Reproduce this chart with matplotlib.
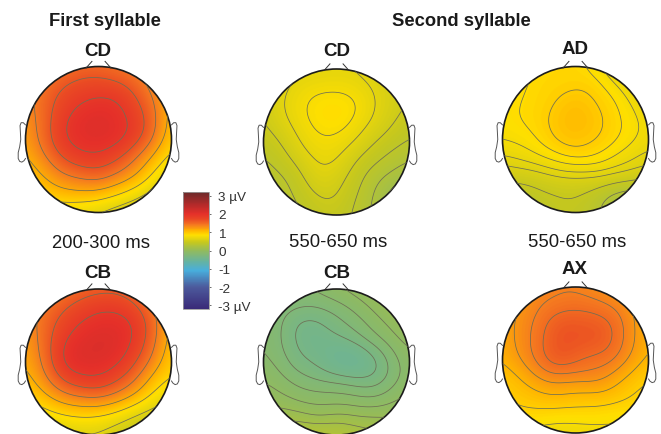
import numpy as np
import matplotlib
matplotlib.use('Agg')
import matplotlib.pyplot as plt
from matplotlib.colors import LinearSegmentedColormap, Normalize
from matplotlib.patches import Circle
from matplotlib.tri import Triangulation, CubicTriInterpolator

plt.rcParams['font.family'] = ['Liberation Sans', 'DejaVu Sans']

W, H = 661, 435
text_col = '#1a1a1a'

# voltage on a 9x9 grid, top row = front of head
grid_pos = [-1, -0.75, -0.5, -0.25, 0, 0.25, 0.5, 0.75, 1]

cd_first = [
    [1.25, 1.35, 1.42, 1.50, 1.50, 1.45, 1.35, 1.20, 1.05],
    [1.30, 1.45, 1.62, 1.72, 1.75, 1.70, 1.55, 1.30, 1.05],
    [1.30, 1.52, 1.75, 1.90, 1.97, 1.93, 1.72, 1.42, 1.05],
    [1.25, 1.52, 1.85, 2.02, 2.06, 2.00, 1.83, 1.48, 1.00],
    [1.20, 1.50, 1.85, 2.00, 2.03, 1.97, 1.75, 1.38, 0.95],
    [1.10, 1.35, 1.65, 1.82, 1.85, 1.70, 1.42, 1.10, 0.80],
    [1.00, 1.15, 1.35, 1.45, 1.50, 1.35, 1.15, 0.85, 0.60],
    [0.85, 0.95, 1.05, 1.08, 1.05, 0.92, 0.75, 0.55, 0.38],
    [0.70, 0.70, 0.70, 0.65, 0.60, 0.50, 0.42, 0.35, 0.30],
]
cd_second = [
    [0.58, 0.60, 0.62, 0.65, 0.66, 0.65, 0.58, 0.54, 0.50],
    [0.56, 0.62, 0.71, 0.75, 0.76, 0.73, 0.65, 0.56, 0.50],
    [0.51, 0.65, 0.76, 0.85, 0.87, 0.81, 0.68, 0.56, 0.48],
    [0.48, 0.60, 0.73, 0.83, 0.85, 0.76, 0.63, 0.51, 0.42],
    [0.42, 0.51, 0.66, 0.76, 0.75, 0.65, 0.51, 0.42, 0.35],
    [0.35, 0.43, 0.56, 0.68, 0.66, 0.51, 0.40, 0.32, 0.25],
    [0.32, 0.35, 0.46, 0.60, 0.56, 0.43, 0.30, 0.20, 0.12],
    [0.28, 0.32, 0.40, 0.50, 0.50, 0.38, 0.25, 0.08, 0.00],
    [0.25, 0.28, 0.35, 0.42, 0.43, 0.35, 0.23, 0.10, 0.02],
]
ad_second = [
    [0.80, 0.83, 0.87, 0.90, 0.90, 0.82, 0.68, 0.58, 0.53],
    [0.83, 0.85, 0.90, 0.92, 0.94, 0.92, 0.81, 0.69, 0.58],
    [0.83, 0.87, 0.91, 0.97, 1.03, 0.97, 0.90, 0.78, 0.67],
    [0.83, 0.87, 0.92, 1.01, 1.06, 1.01, 0.92, 0.83, 0.72],
    [0.78, 0.81, 0.88, 0.97, 1.01, 0.97, 0.90, 0.81, 0.72],
    [0.66, 0.70, 0.76, 0.83, 0.88, 0.86, 0.78, 0.70, 0.64],
    [0.50, 0.52, 0.55, 0.60, 0.62, 0.62, 0.58, 0.54, 0.50],
    [0.35, 0.36, 0.42, 0.45, 0.46, 0.40, 0.28, 0.22, 0.20],
    [0.30, 0.30, 0.36, 0.42, 0.42, 0.34, 0.22, 0.16, 0.15],
]
cb_first = [
    [1.20, 1.30, 1.40, 1.50, 1.55, 1.55, 1.45, 1.25, 1.05],
    [1.25, 1.42, 1.60, 1.75, 1.85, 1.85, 1.70, 1.40, 1.05],
    [1.25, 1.50, 1.75, 1.93, 2.02, 2.02, 1.88, 1.50, 1.05],
    [1.20, 1.50, 1.88, 2.05, 2.10, 2.05, 1.85, 1.45, 1.00],
    [1.15, 1.45, 1.90, 2.05, 2.05, 1.95, 1.68, 1.30, 0.95],
    [1.05, 1.30, 1.65, 1.82, 1.85, 1.68, 1.40, 1.05, 0.85],
    [0.90, 1.05, 1.25, 1.35, 1.38, 1.25, 1.05, 0.80, 0.65],
    [0.68, 0.75, 0.85, 0.90, 0.88, 0.78, 0.62, 0.50, 0.48],
    [0.50, 0.50, 0.55, 0.60, 0.60, 0.50, 0.40, 0.38, 0.38],
]
cb_second = [
    [-0.10, -0.12, -0.15, -0.12, -0.05, 0.00, 0.05, 0.10, 0.12],
    [-0.15, -0.20, -0.25, -0.25, -0.20, -0.12, -0.03, 0.05, 0.10],
    [-0.15, -0.25, -0.38, -0.38, -0.30, -0.22, -0.12, -0.03, 0.05],
    [-0.15, -0.25, -0.38, -0.42, -0.42, -0.36, -0.24, -0.12, -0.02],
    [-0.12, -0.20, -0.32, -0.38, -0.48, -0.50, -0.40, -0.22, -0.08],
    [-0.05, -0.12, -0.20, -0.25, -0.28, -0.32, -0.32, -0.20, -0.08],
    [0.02, -0.02, -0.08, -0.10, -0.10, -0.12, -0.14, -0.08, -0.02],
    [0.10, 0.12, 0.10, 0.05, 0.08, 0.06, 0.05, 0.05, 0.05],
    [0.20, 0.25, 0.30, 0.32, 0.30, 0.25, 0.20, 0.15, 0.12],
]
ax_second = [
    [1.15, 1.20, 1.30, 1.35, 1.35, 1.30, 1.25, 1.15, 1.05],
    [1.15, 1.25, 1.37, 1.43, 1.46, 1.43, 1.37, 1.25, 1.10],
    [1.15, 1.30, 1.43, 1.59, 1.61, 1.59, 1.50, 1.30, 1.10],
    [1.15, 1.30, 1.46, 1.63, 1.63, 1.61, 1.51, 1.30, 1.10],
    [1.10, 1.25, 1.43, 1.58, 1.53, 1.46, 1.40, 1.22, 1.05],
    [1.00, 1.10, 1.25, 1.32, 1.30, 1.30, 1.20, 1.05, 0.95],
    [0.95, 1.00, 1.05, 1.08, 1.05, 1.05, 1.02, 0.95, 0.90],
    [0.85, 0.90, 0.90, 0.88, 0.88, 0.88, 0.85, 0.85, 0.85],
    [0.75, 0.75, 0.72, 0.70, 0.70, 0.72, 0.75, 0.78, 0.80],
]

# contour values for each map
levels_first = [0.65, 0.9, 1.15, 1.4, 1.65, 1.9]
levels_second = [0.13, 0.25, 0.37, 0.5, 0.66, 0.79]
levels_ad = [0.3, 0.45, 0.6, 0.68, 0.78, 0.87, 0.96]
levels_cb = [-0.35, -0.25, -0.15, -0.05, 0.05, 0.15]
levels_ax = [0.8, 0.95, 1.1, 1.25, 1.38, 1.5]

cbar_ticks = [3, 2, 1, 0, -1, -2, -3]
cbar_labels = ['3 µV', '2', '1', '0', '-1', '-2', '-3 µV']

vmin, vmax = -3.2, 3.2


def stop(v):
    return (v - vmin) / (vmax - vmin)


volt_cmap = LinearSegmentedColormap.from_list('volt', [
    (0.0, '#3a2a78'), (stop(-2), '#4c5a9c'), (stop(-1.1), '#48aedc'),
    (stop(-0.6), '#66b3a0'), (stop(0), '#93bb5c'), (stop(0.45), '#c6c81e'),
    (stop(0.85), '#ffe000'), (stop(1.1), '#ffb400'), (stop(1.4), '#f57a20'),
    (stop(1.7), '#ea4a24'), (stop(2), '#e5302a'), (stop(2.5), '#b52a2a'), (1.0, '#6b2a2a'),
])
norm = Normalize(vmin, vmax)

fig = plt.figure(figsize=(W / 100, H / 100), dpi=100)


def add_text(x, y, s, size, bold=False):
    fig.text(x / W, 1 - y / H, s, ha='center', va='center', fontsize=size,
             fontweight='bold' if bold else 'normal', color=text_col)


def soften(z, sigma=16):
    # rounds off the corners the coarse grid leaves in the contours
    k = np.exp(-0.5 * (np.arange(-3 * sigma, 3 * sigma + 1) / sigma) ** 2)
    k = k / k.sum()
    pad = 3 * sigma
    z = np.pad(z, pad, mode='edge')
    z = np.apply_along_axis(np.convolve, 0, z, k, mode='same')
    z = np.apply_along_axis(np.convolve, 1, z, k, mode='same')
    return z[pad:-pad, pad:-pad]


def draw_head(cx, cy, values, levels, r=73):
    hw = r * 1.25
    ax = fig.add_axes([(cx - hw) / W, 1 - (cy + hw) / H, 2 * hw / W, 2 * hw / H])
    lim = hw / r
    ax.set_xlim(-lim, lim)
    ax.set_ylim(-lim, lim)
    ax.axis('off')

    xx, yy = np.meshgrid(grid_pos, grid_pos[::-1])
    tri = Triangulation(xx.ravel(), yy.ravel())
    interp = CubicTriInterpolator(tri, np.array(values).ravel(), kind='min_E')
    xf, yf = np.meshgrid(np.linspace(-1, 1, 300), np.linspace(-1, 1, 300))
    zf = soften(np.asarray(interp(xf, yf)))

    clip = Circle((0, 0), 1.0, transform=ax.transData)
    im = ax.imshow(zf, extent=(-1, 1, -1, 1), origin='lower', cmap=volt_cmap, norm=norm,
                   interpolation='bilinear')
    im.set_clip_path(clip)
    cs = ax.contour(xf, yf, zf, levels=levels, colors='#6e6e55', linewidths=0.55,
                    linestyles='solid')
    cs.set_clip_path(clip)
    ax.add_patch(Circle((0, 0), 1.0, fill=False, ec='#1c1c1c', lw=1.2))

    # nose and ears
    ax.plot([-0.17, -0.09], [0.98, 1.07], color='#333333', lw=0.7)
    ax.plot([0.17, 0.09], [0.98, 1.07], color='#333333', lw=0.7)
    ear_x = np.array([1.0, 1.03, 1.06, 1.075, 1.07, 1.065, 1.08, 1.10, 1.10, 1.08, 1.05, 1.02, 1.0])
    ear_y = np.array([0.2, 0.23, 0.23, 0.19, 0.1, 0.0, -0.1, -0.18, -0.26, -0.3, -0.31, -0.29, -0.26])
    for side in (-1, 1):
        ax.plot(side * ear_x, ear_y, color='#555555', lw=0.7, solid_joinstyle='round')


draw_head(98.5, 140.5, cd_first, levels_first)
draw_head(336.5, 143, cd_second, levels_second)
draw_head(575.5, 140.5, ad_second, levels_ad)
draw_head(98.5, 363, cb_first, levels_first)
draw_head(336.5, 363, cb_second, levels_cb)
draw_head(575.5, 361, ax_second, levels_ax)

add_text(105, 22, 'First syllable', 13.2, True)
add_text(461, 22, 'Second syllable', 13.2, True)
add_text(98, 51, 'CD', 13.5, True)
add_text(337, 52, 'CD', 13.5, True)
add_text(575, 50, 'AD', 13.5, True)
add_text(98, 274, 'CB', 13.5, True)
add_text(337, 273, 'CB', 13.5, True)
add_text(575, 270, 'AX', 13.5, True)
add_text(101, 244, '200-300 ms', 13.3)
add_text(338, 243, '550-650 ms', 13.3)
add_text(577, 243, '550-650 ms', 13.3)

# colour bar
cax = fig.add_axes([183 / W, 1 - 310 / H, 26 / W, 117 / H])
cb = fig.colorbar(plt.cm.ScalarMappable(norm=norm, cmap=volt_cmap), cax=cax)
cb.set_ticks(cbar_ticks)
cb.set_ticklabels(cbar_labels)
cb.ax.tick_params(length=1.5, width=0.5, labelsize=9.7, pad=5, colors='#333333')
cb.outline.set_edgecolor('#999999')
cb.outline.set_linewidth(0.6)

fig.savefig('out.png', dpi=100)
